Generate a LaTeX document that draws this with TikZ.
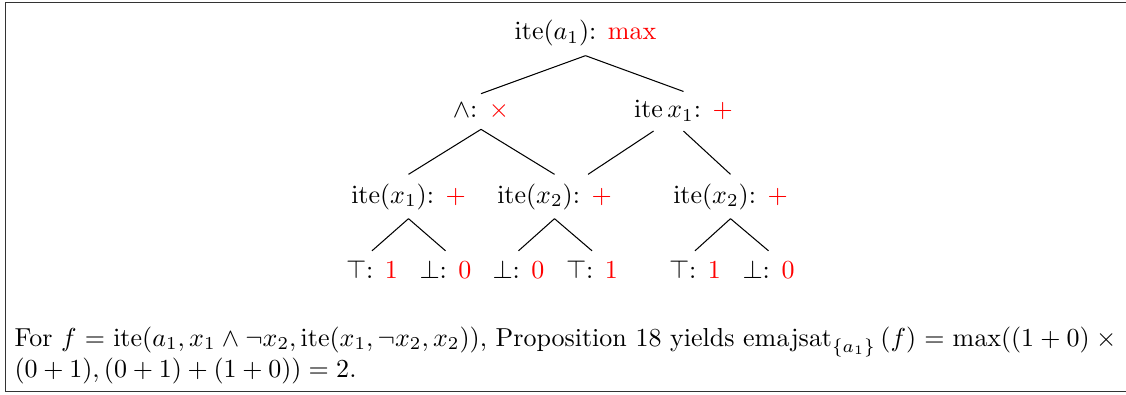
\documentclass[tikz,border=0pt]{standalone}
\usepackage{amsmath,amssymb}
\usepackage{xcolor}
\usetikzlibrary{positioning}

\begin{document}
\begin{tikzpicture}[
    x=0.385pt, y=-0.385pt,
    op/.style={anchor=base,inner sep=3.33pt},
    val/.style={color=red}
  ]
  \useasboundingbox (0,0) rectangle (1126,394);
  \draw[black!80] (1140,2.5) -- (5.5,2.5) -- (5.5,391.5) -- (1140,391.5);

  % tree of the formula
  \node[op] (root) at (585.5,40) {$\operatorname{ite}(a_1)$: \textcolor{red}{max}};
  \node[op] (conj) at (481,118) {$\wedge$: \textcolor{red}{$\times$}};
  \node[op] (itex) at (683.5,118) {$\operatorname{ite} x_1$: \textcolor{red}{$+$}};
  \node[op] (itea) at (408.5,203) {$\operatorname{ite}(x_1)$: \textcolor{red}{$+$}};
  \node[op] (iteb) at (554.5,203) {$\operatorname{ite}(x_2)$: \textcolor{red}{$+$}};
  \node[op] (itec) at (730.5,203) {$\operatorname{ite}(x_2)$: \textcolor{red}{$+$}};
  \node[op] (la) at (372,278) {$\top$: \textcolor{red}{1}};
  \node[op] (lb) at (445.5,278) {$\bot$: \textcolor{red}{0}};
  \node[op] (lc) at (518.5,278) {$\bot$: \textcolor{red}{0}};
  \node[op] (ld) at (592,278) {$\top$: \textcolor{red}{1}};
  \node[op] (le) at (695,278) {$\top$: \textcolor{red}{1}};
  \node[op] (lf) at (768.5,278) {$\bot$: \textcolor{red}{0}};

  \draw (root.south) -- (conj.north);
  \draw (root.south) -- (itex.north);
  \draw (conj.south) -- (itea.north);
  \draw (conj.south) -- (iteb.north);
  \draw (itex) -- (iteb);
  \draw (itex.south) -- (itec.north);
  \draw (itea.south) -- (la.north);
  \draw (itea.south) -- (lb.north);
  \draw (iteb.south) -- (lc.north);
  \draw (iteb.south) -- (ld.north);
  \draw (itec.south) -- (le.north);
  \draw (itec.south) -- (lf.north);

  % caption under the tree
  \node[anchor=base west,text width=427pt,inner sep=0pt] (caption) at (14,346)
    {For $f=\operatorname{ite}(a_1,x_1\wedge\neg x_2,\operatorname{ite}(x_1,\neg x_2,x_2))$, Proposition 18 yields $\mathrm{emajsat}_{\{a_1\}}\,(f)=\max((1+0)\times(0+1),(0+1)+(1+0))=2$.};
\end{tikzpicture}
\end{document}
